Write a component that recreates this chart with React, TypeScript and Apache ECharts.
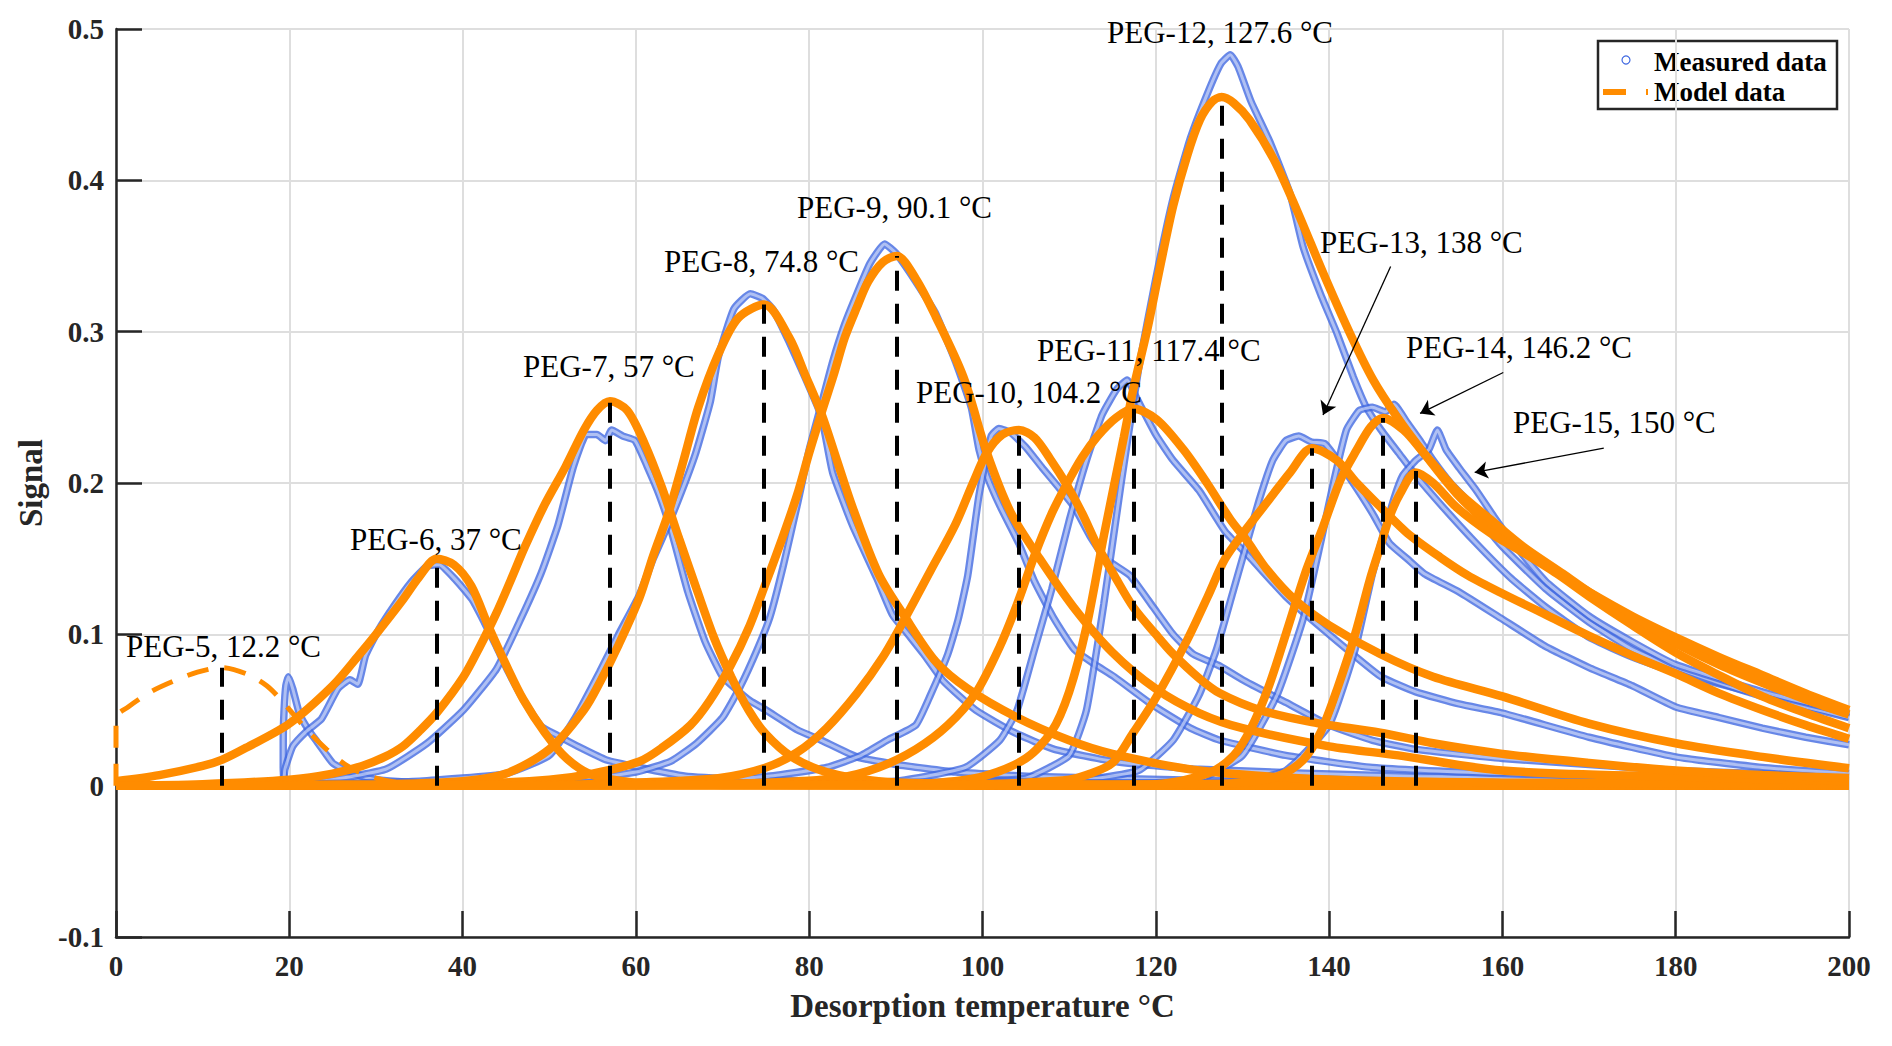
import { useEffect, useRef } from "react"
import * as echarts from "echarts"

// peaks: label, temperature, model peak height
const peakLabels = [
  "PEG-5, 12.2 °C", "PEG-6, 37 °C", "PEG-7, 57 °C", "PEG-8, 74.8 °C", "PEG-9, 90.1 °C",
  "PEG-10, 104.2 °C", "PEG-11, 117.4 °C", "PEG-12, 127.6 °C", "PEG-13, 138 °C",
  "PEG-14, 146.2 °C", "PEG-15, 150 °C",
]
const peakTemps = [12.2, 37, 57, 74.8, 90.1, 104.2, 117.4, 127.6, 138, 146.2, 150]
const peakHeights = [0.078, 0.15, 0.254, 0.318, 0.35, 0.235, 0.249, 0.455, 0.223, 0.243, 0.208]

// model curves [temperature, signal]
const model5 = [[0, 0], [0, 0.045], [1.4, 0.052], [4, 0.062], [6.6, 0.069], [9.4, 0.075], [12.2, 0.078], [15, 0.074], [17.4, 0.066], [19.3, 0.055], [22, 0.037], [24.3, 0.024], [27, 0.012], [30, 0.005], [34, 0.001], [40, 0]]
const model6 = [[0, 0.003], [5, 0.007], [10, 0.013], [12.2, 0.017], [15, 0.025], [20, 0.041], [25, 0.066], [28, 0.086], [30, 0.1], [33, 0.122], [35, 0.138], [37, 0.15], [39, 0.146], [41, 0.132], [43, 0.105], [45, 0.08], [47, 0.057], [49.5, 0.035], [52, 0.018], [55, 0.007], [60, 0.002], [70, 0.0005], [100, 0], [200, 0]]
const model7 = [[0, 0], [10, 0.001], [20, 0.004], [25, 0.008], [28.4, 0.013], [31, 0.019], [33.1, 0.026], [35, 0.036], [37, 0.048], [40.1, 0.072], [42, 0.092], [43.9, 0.114], [45.5, 0.135], [47.2, 0.158], [49.5, 0.186], [51.9, 0.211], [54, 0.235], [55.5, 0.248], [57, 0.254], [59, 0.248], [61, 0.226], [63, 0.197], [65, 0.163], [67, 0.13], [69, 0.098], [71, 0.072], [73, 0.05], [75, 0.034], [78, 0.019], [82, 0.009], [88, 0.003], [100, 0.001], [200, 0]]
const model8 = [[0, 0], [30, 0.001], [40, 0.003], [45, 0.008], [50, 0.024], [54, 0.05], [56, 0.07], [58, 0.093], [60.4, 0.124], [62, 0.152], [63.8, 0.181], [65.5, 0.215], [67.2, 0.25], [69.5, 0.285], [71.8, 0.309], [74.8, 0.318], [77.7, 0.296], [79.5, 0.272], [81.4, 0.246], [83.2, 0.215], [85, 0.184], [88, 0.14], [91, 0.112], [94.6, 0.082], [98.3, 0.064], [104, 0.045], [110, 0.03], [115, 0.021], [125, 0.01], [140, 0.004], [160, 0.002], [200, 0.001]]
const model9 = [[0, 0], [30, 0.0005], [40, 0.001], [50, 0.004], [55, 0.008], [60.4, 0.016], [63, 0.025], [66.3, 0.04], [68.5, 0.056], [70.9, 0.079], [73, 0.104], [75, 0.134], [76.8, 0.162], [78.6, 0.192], [80, 0.22], [81.4, 0.246], [82.8, 0.271], [84.1, 0.296], [85.5, 0.316], [86.8, 0.333], [88.5, 0.346], [90.1, 0.35], [92.3, 0.335], [94.6, 0.31], [97.8, 0.27], [100.5, 0.22], [103.3, 0.18], [106.6, 0.15], [110.5, 0.118], [115, 0.088], [120, 0.064], [125, 0.048], [130, 0.038], [140, 0.026], [148, 0.02], [160, 0.01], [180, 0.006], [200, 0.003]]
const model10 = [[0, 0], [50, 0.0005], [60, 0.002], [69.5, 0.005], [75, 0.012], [78.6, 0.022], [82, 0.038], [85.5, 0.061], [88.5, 0.085], [91, 0.11], [94, 0.142], [96.9, 0.173], [98.9, 0.2], [100.5, 0.22], [102.3, 0.232], [104.2, 0.235], [106, 0.23], [107.8, 0.216], [109.7, 0.199], [111.5, 0.18], [113.3, 0.158], [115.3, 0.138], [117.4, 0.118], [120, 0.1], [122, 0.087], [125, 0.071], [127.4, 0.061], [132, 0.05], [138, 0.042], [145.9, 0.035], [152, 0.028], [160, 0.021], [170, 0.015], [180, 0.01], [190, 0.007], [200, 0.005]]
const model11 = [[0, 0], [60, 0.0005], [75, 0.002], [83.2, 0.005], [88, 0.012], [92.3, 0.024], [96, 0.04], [99.2, 0.061], [102, 0.092], [104, 0.12], [106, 0.152], [108, 0.18], [109.7, 0.199], [111.5, 0.217], [113.3, 0.231], [115.4, 0.243], [117.4, 0.249], [120.1, 0.242], [123.2, 0.222], [125.9, 0.2], [128.6, 0.176], [130.5, 0.162], [132.8, 0.143], [136, 0.123], [140, 0.106], [145.9, 0.087], [152, 0.072], [160, 0.059], [170, 0.041], [180, 0.028], [190, 0.019], [200, 0.0115]]
const model12 = [[0, 0], [80, 0.0005], [90, 0.001], [95, 0.002], [100, 0.006], [105, 0.018], [108, 0.036], [110, 0.062], [112, 0.105], [114, 0.165], [116.3, 0.23], [117.4, 0.262], [119, 0.301], [120.5, 0.343], [122, 0.383], [123.6, 0.416], [125.1, 0.44], [126.5, 0.452], [127.6, 0.455], [129, 0.451], [130.8, 0.44], [133.6, 0.414], [136.3, 0.38], [139.3, 0.339], [142.4, 0.299], [145.1, 0.268], [147.8, 0.244], [150.9, 0.22], [154.7, 0.193], [158.6, 0.172], [162.4, 0.156], [166.3, 0.141], [170, 0.128], [175, 0.112], [180, 0.098], [185, 0.085], [190, 0.073], [195, 0.061], [200, 0.05]]
const model13 = [[0, 0], [100, 0.001], [105, 0.002], [110, 0.004], [112, 0.007], [115, 0.015], [117.4, 0.035], [120, 0.058], [123.6, 0.096], [126, 0.125], [128, 0.15], [130.5, 0.17], [133.2, 0.19], [135.5, 0.207], [138, 0.223], [140.9, 0.215], [143.2, 0.2], [146.3, 0.182], [149, 0.167], [152.8, 0.151], [156, 0.139], [160, 0.127], [165, 0.113], [170, 0.099], [175, 0.086], [180, 0.074], [185, 0.061], [190, 0.05], [195, 0.04], [200, 0.031]]
const model14 = [[0, 0], [110, 0.0005], [120, 0.001], [126, 0.008], [129, 0.02], [131, 0.038], [133, 0.065], [135, 0.1], [137.4, 0.143], [139.3, 0.171], [141.3, 0.202], [143.2, 0.222], [144.8, 0.237], [146.2, 0.243], [148.6, 0.235], [150.9, 0.22], [154.7, 0.195], [158.6, 0.176], [162.4, 0.158], [167, 0.14], [170, 0.128], [175, 0.11], [180, 0.094], [185, 0.08], [190, 0.068], [195, 0.057], [200, 0.047]]
const model15 = [[0, 0], [115, 0.0005], [125, 0.001], [130, 0.002], [134, 0.006], [137, 0.017], [139, 0.035], [141, 0.065], [143, 0.1], [144.7, 0.136], [145.9, 0.158], [147, 0.178], [148.2, 0.193], [150, 0.207], [152, 0.2], [154.7, 0.184], [158.6, 0.167], [162.4, 0.154], [166.3, 0.14], [170, 0.125], [175, 0.106], [180, 0.088], [185, 0.073], [190, 0.059], [195, 0.048], [200, 0.038]]

// measured curves [temperature, signal]
const meas5 = [[19.4, 0], [19.3, 0.012], [19.3, 0.03], [19.4, 0.05], [19.6, 0.066], [19.9, 0.072], [20.4, 0.064], [21.2, 0.047], [22.2, 0.037], [23.2, 0.029], [24.2, 0.021], [25, 0.015], [26.2, 0.011], [27.4, 0.008], [30, 0.004], [35, 0.002], [45, 0.001], [200, 0]]
const meas6 = [[19.4, 0.004], [19.5, 0.011], [20.4, 0.026], [22, 0.036], [23.7, 0.044], [25.6, 0.064], [27, 0.07], [27.9, 0.067], [28.8, 0.086], [30.3, 0.103], [32.1, 0.119], [34, 0.134], [35.9, 0.145], [37.3, 0.146], [39.2, 0.136], [41.1, 0.123], [42.5, 0.108], [43.9, 0.092], [45.3, 0.075], [47.2, 0.055], [49.1, 0.039], [51, 0.033], [53.3, 0.026], [56.6, 0.017], [61.3, 0.011], [66, 0.006], [74, 0.004], [90, 0.002], [120, 0.001], [200, 0]]
const meas7 = [[19.5, 0.001], [25, 0.004], [31.2, 0.011], [35.9, 0.028], [40.1, 0.05], [43.9, 0.077], [46.7, 0.11], [49.1, 0.141], [51, 0.172], [52.8, 0.211], [54.3, 0.232], [55.5, 0.232], [56.5, 0.228], [57.2, 0.235], [58.5, 0.231], [59.9, 0.228], [61.3, 0.211], [62.7, 0.192], [64.1, 0.168], [66, 0.128], [68, 0.095], [70, 0.072], [71.5, 0.064], [73.2, 0.056], [75, 0.05], [78.6, 0.037], [81.4, 0.03], [85.5, 0.019], [90, 0.014], [96.9, 0.009], [106, 0.006], [130, 0.003], [200, 0.001]]
const meas8 = [[19.5, 0.001], [35, 0.003], [45, 0.008], [50, 0.02], [53, 0.045], [55.8, 0.075], [58, 0.1], [60.4, 0.126], [62, 0.15], [64, 0.176], [66.8, 0.218], [68.6, 0.254], [69.5, 0.283], [71.3, 0.315], [73.2, 0.325], [74.6, 0.322], [75.9, 0.314], [77.7, 0.293], [79.5, 0.27], [81.4, 0.244], [82.7, 0.207], [85, 0.172], [87.8, 0.137], [89.6, 0.113], [91.4, 0.1], [93.2, 0.087], [95.5, 0.069], [99.2, 0.05], [103.7, 0.035], [108.3, 0.024], [115.2, 0.016], [124.3, 0.011], [150, 0.006], [200, 0.003]]
const meas9 = [[19.5, 0.001], [45, 0.002], [55, 0.005], [60, 0.009], [64, 0.016], [67, 0.028], [70, 0.045], [72, 0.065], [74, 0.09], [75.5, 0.112], [77, 0.145], [78.6, 0.185], [80, 0.222], [81.4, 0.252], [82.7, 0.28], [84.1, 0.305], [85.5, 0.325], [87, 0.345], [88.7, 0.358], [90, 0.352], [91.5, 0.34], [93.2, 0.325], [94.6, 0.312], [96.9, 0.28], [98.7, 0.25], [99.6, 0.222], [100.5, 0.205], [102, 0.185], [104.2, 0.16], [106, 0.135], [108.3, 0.11], [110.6, 0.09], [113, 0.08], [115.2, 0.072], [119.7, 0.053], [124, 0.038], [127.4, 0.03], [135, 0.02], [145, 0.012], [160, 0.008], [180, 0.005], [200, 0.004]]
const meas10 = [[19.5, 0.001], [60, 0.002], [75, 0.006], [82, 0.012], [86, 0.02], [89, 0.03], [92.3, 0.04], [94, 0.06], [96, 0.087], [97.2, 0.11], [98.3, 0.139], [99.6, 0.192], [101, 0.231], [101.9, 0.236], [103.3, 0.233], [105.1, 0.223], [106.9, 0.21], [108.8, 0.197], [110.6, 0.184], [112.4, 0.165], [114.2, 0.15], [117, 0.139], [119.7, 0.118], [122, 0.1], [124.3, 0.087], [127.4, 0.079], [130, 0.07], [135, 0.055], [140, 0.04], [145, 0.03], [150, 0.024], [160, 0.018], [170, 0.014], [180, 0.01], [190, 0.008], [200, 0.006]]
const meas11 = [[19.5, 0.001], [80, 0.002], [90, 0.003], [98, 0.012], [102, 0.03], [104, 0.05], [106, 0.09], [108, 0.13], [110, 0.175], [112, 0.215], [113.8, 0.245], [115.5, 0.262], [116.7, 0.268], [117.8, 0.256], [120, 0.232], [122, 0.215], [125, 0.195], [128, 0.168], [131, 0.15], [135, 0.125], [140, 0.1], [146, 0.072], [150, 0.062], [155, 0.054], [160, 0.048], [170, 0.032], [180, 0.019], [190, 0.012], [200, 0.008]]
const meas12 = [[19.5, 0], [95, 0.002], [105, 0.005], [110, 0.02], [112, 0.05], [114, 0.12], [116, 0.2], [118, 0.275], [120, 0.335], [122, 0.388], [124, 0.428], [126, 0.458], [127.5, 0.477], [128.6, 0.483], [129.5, 0.475], [131, 0.452], [133.2, 0.425], [135.5, 0.391], [137, 0.356], [139, 0.325], [140.9, 0.299], [142.8, 0.27], [144.3, 0.25], [146, 0.235], [148, 0.22], [150, 0.205], [153, 0.185], [157, 0.16], [161, 0.137], [165, 0.118], [170, 0.098], [175, 0.085], [180, 0.075], [190, 0.06], [200, 0.046]]
const meas13 = [[19.5, 0], [110, 0.003], [118, 0.01], [122, 0.03], [125, 0.06], [127, 0.09], [129, 0.13], [130.5, 0.16], [132, 0.19], [133.5, 0.215], [135, 0.228], [136.5, 0.231], [138, 0.227], [139.5, 0.226], [141, 0.215], [143, 0.198], [145, 0.18], [147, 0.16], [149, 0.15], [151, 0.14], [155, 0.128], [160, 0.11], [165, 0.092], [170, 0.078], [175, 0.066], [180, 0.052], [185, 0.045], [190, 0.038], [195, 0.032], [200, 0.027]]
const meas14 = [[19.5, 0], [120, 0.002], [125, 0.004], [130, 0.02], [134, 0.06], [137, 0.11], [139, 0.16], [140.5, 0.2], [142, 0.235], [143.5, 0.248], [145, 0.25], [146.5, 0.247], [147.5, 0.252], [149, 0.24], [150.5, 0.228], [152, 0.215], [154, 0.2], [156, 0.188], [158, 0.172], [160, 0.158], [165, 0.13], [170, 0.108], [175, 0.09], [180, 0.078], [185, 0.068], [190, 0.059], [195, 0.052], [200, 0.045]]
const meas15 = [[19.5, 0], [125, 0.002], [130, 0.003], [135, 0.01], [140, 0.04], [143, 0.09], [145, 0.14], [146.5, 0.17], [147.5, 0.19], [148.5, 0.205], [150, 0.215], [151.5, 0.222], [152.5, 0.235], [153.5, 0.222], [155, 0.21], [157, 0.195], [159, 0.178], [161, 0.162], [165, 0.135], [170, 0.112], [175, 0.095], [180, 0.08], [190, 0.062], [200, 0.048]]

const modelCurves = [model5, model6, model7, model8, model9, model10, model11, model12, model13, model14, model15]
const measuredCurves = [meas5, meas6, meas7, meas8, meas9, meas10, meas11, meas12, meas13, meas14, meas15]

// arrows for PEG-13/14/15 labels: [from, to] in data units
const arrowLines = [
  [[147.1, 0.343], [139.3, 0.245]],
  [[160.1, 0.273], [150.5, 0.246]],
  [[171.7, 0.223], [156.8, 0.207]],
]

// label anchors (left, middle) in pixels
const labelPos = [
  [126, 646], [350, 539], [523, 366], [664, 261], [797, 207], [916, 392],
  [1037, 350], [1107, 32], [1320, 242], [1406, 347], [1513, 422],
]

const ORANGE = "#ff8c00"
const BLUE = "#4169e1"
const SERIF = '"Liberation Serif", "Times New Roman", serif'

export default function App() {
  const chartRef = useRef<HTMLDivElement>(null)

  useEffect(() => {
    if (!chartRef.current) return
    const chart = echarts.init(chartRef.current, null, { renderer: "svg" })

    // measured data drawn as a hollow band (outer blue, light core) like dense open circles
    const measuredSeries = measuredCurves.flatMap((d) => [
      {
        type: "line",
        name: "Measured data",
        data: d,
        smooth: 0.15,
        showSymbol: false,
        silent: true,
        z: 2,
        lineStyle: { color: BLUE, width: 7.5, opacity: 0.8 },
      },
      {
        type: "line",
        name: "Measured data",
        data: d,
        smooth: 0.15,
        showSymbol: false,
        silent: true,
        z: 2,
        lineStyle: { color: "#dfe6fb", width: 3, opacity: 0.6 },
      },
    ])

    const modelSeries = modelCurves.map((d, i) => ({
      type: "line",
      name: "Model data",
      data: d,
      smooth: 0.3,
      showSymbol: false,
      silent: true,
      z: 3,
      lineStyle: {
        color: ORANGE,
        width: i === 0 ? 5 : 8.5,
        type: i === 0 ? [22, 16] : "solid",
        cap: "butt",
      },
    }))

    const option = {
      animation: false,
      backgroundColor: "#fff",
      grid: { left: 116, right: 43, top: 29, bottom: 109, containLabel: false },
      xAxis: {
        type: "value",
        min: 0,
        max: 200,
        interval: 20,
        name: "Desorption temperature °C",
        nameLocation: "middle",
        nameGap: 52,
        nameTextStyle: { fontFamily: SERIF, fontWeight: "bold", fontSize: 33, color: "#262626" },
        axisLine: { onZero: false, lineStyle: { color: "#262626", width: 2.5 } },
        axisTick: { inside: true, length: 26, lineStyle: { color: "#262626", width: 2.5 } },
        axisLabel: { fontFamily: SERIF, fontWeight: "bold", fontSize: 29, color: "#262626", margin: 14 },
        splitLine: { show: true, lineStyle: { color: "#dedede", width: 2 } },
      },
      yAxis: {
        type: "value",
        min: -0.1,
        max: 0.5,
        interval: 0.1,
        name: "Signal",
        nameLocation: "middle",
        nameRotate: 90,
        nameGap: 67,
        nameTextStyle: { fontFamily: SERIF, fontWeight: "bold", fontSize: 33, color: "#262626" },
        axisLine: { onZero: false, lineStyle: { color: "#262626", width: 2.5 } },
        axisTick: { inside: true, length: 26, lineStyle: { color: "#262626", width: 2.5 } },
        axisLabel: {
          fontFamily: SERIF,
          fontWeight: "bold",
          fontSize: 29,
          color: "#262626",
          margin: 12,
          formatter: (v: number) => String(Number(v.toFixed(1))),
        },
        splitLine: { show: true, lineStyle: { color: "#dedede", width: 2 } },
      },
      series: [
        ...measuredSeries,
        ...modelSeries,
        {
          type: "lines",
          coordinateSystem: "cartesian2d",
          silent: true,
          z: 4,
          data: peakTemps.map((t, i) => ({ coords: [[t, 0], [t, peakHeights[i]]] })),
          lineStyle: { color: "#000", width: 4, type: [20, 13], opacity: 1 },
        },
        {
          type: "lines",
          coordinateSystem: "cartesian2d",
          silent: true,
          z: 5,
          symbol: ["none", "arrow"],
          symbolSize: 13,
          data: arrowLines.map((c) => ({ coords: c })),
          lineStyle: { color: "#000", width: 1.3, opacity: 1 },
        },
      ],
      graphic: [
        ...peakLabels.map((text, i) => ({
          type: "text",
          x: labelPos[i][0],
          y: labelPos[i][1],
          z: 10,
          style: { text, fill: "#000", font: `31px ${SERIF}`, verticalAlign: "middle" },
        })),
        {
          type: "group",
          z: 20,
          children: [
            {
              type: "rect",
              shape: { x: 1598, y: 41, width: 239, height: 68 },
              style: { fill: "#fff", stroke: "#262626", lineWidth: 2.5 },
            },
            {
              type: "circle",
              shape: { cx: 1626, cy: 60, r: 4 },
              style: { fill: "none", stroke: BLUE, lineWidth: 1.2 },
            },
            { type: "rect", shape: { x: 1603, y: 89, width: 23, height: 6 }, style: { fill: ORANGE } },
            { type: "rect", shape: { x: 1646, y: 89, width: 2, height: 6 }, style: { fill: ORANGE } },
            {
              type: "text",
              x: 1654,
              y: 62,
              style: { text: "Measured data", fill: "#000", font: `bold 27px ${SERIF}`, verticalAlign: "middle" },
            },
            {
              type: "text",
              x: 1654,
              y: 92,
              style: { text: "Model data", fill: "#000", font: `bold 27px ${SERIF}`, verticalAlign: "middle" },
            },
          ],
        },
      ],
    }

    chart.setOption(option)

    const handleResize = () => chart.resize()
    window.addEventListener("resize", handleResize)
    return () => {
      window.removeEventListener("resize", handleResize)
      chart.dispose()
    }
  }, [])

  return (
    <div
      ref={chartRef}
      style={{ position: "fixed", left: 0, top: 0, width: 1892, height: 1046, background: "#fff" }}
    />
  )
}
